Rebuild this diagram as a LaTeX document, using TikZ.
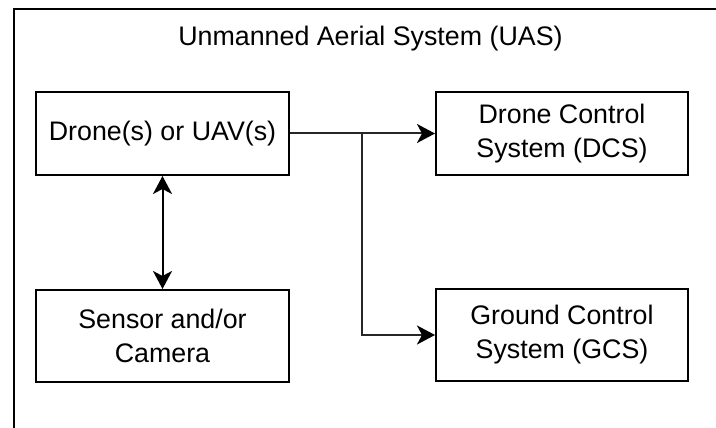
\documentclass[tikz,border=0pt]{standalone}
\usepackage{fontspec}
\setmainfont{Liberation Sans}
\usetikzlibrary{arrows.meta}
\begin{document}
\begin{tikzpicture}[x=1pt,y=-1pt,
  lbl/.style={font=\fontsize{26.8}{34}\selectfont, text=black},
  block/.style={lbl, draw=black, line width=2pt, fill=white, align=center,
    inner sep=0pt, minimum width=253pt},
  tip/.style={Stealth[length=18pt, width=19pt, inset=5pt]},
  link/.style={draw=black!85, line width=2pt, -{Stealth[length=18pt, width=19pt, inset=5pt, black]}},
  biglink/.style={draw=black, line width=2pt,
    {Stealth[length=18pt, width=19pt, inset=5pt]}-{Stealth[length=18pt, width=19pt, inset=5pt]}}]
  \useasboundingbox (0,0) rectangle (716,428);
  \fill[white] (0,0) rectangle (716,428);

  % outer system frame, running past the right and bottom edges
  \begin{scope}
    \clip (0,0) rectangle (716,428);
    \draw[line width=2pt] (14,9) rectangle (740,450);
  \end{scope}

  \node[lbl] (title) at (370.5,39) {Unmanned Aerial System (UAS)};

  \node[block, minimum height=83pt] (drone) at (162.5,133.5) {Drone(s) or UAV(s)};
  \node[block, minimum height=83pt, minimum width=252pt] (dcs) at (562,133.5) {Drone Control\\System (DCS)};
  \node[block, minimum height=92pt] (sensor) at (162.5,336) {Sensor and/or\\Camera};
  \node[block, minimum height=92pt, minimum width=252pt] (gcs) at (562,335) {Ground Control\\System (GCS)};

  \coordinate (split) at (362,133.5);

  \draw[link] (drone.east) -- (dcs.west);
  \draw[link] (drone.east) -- (split) |- (gcs.west);
  \draw[biglink] (drone.south) -- (sensor.north);
\end{tikzpicture}
\end{document}
